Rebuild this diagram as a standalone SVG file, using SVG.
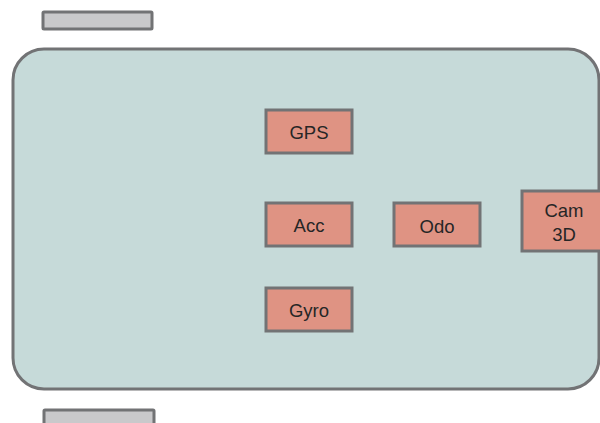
<svg xmlns="http://www.w3.org/2000/svg" width="600" height="423" viewBox="0 0 600 423">
<style>
.wheel{fill:#c9c9cb;stroke:#727375;stroke-width:3}
.body{fill:#c6dad9;stroke:#727375;stroke-width:3}
.node rect{fill:#df9383;stroke:#727375;stroke-width:3}
.node text{font-family:"Liberation Sans",Arial,sans-serif;font-size:18.5px;fill:#262626;text-anchor:middle}
</style>
<rect width="600" height="423" fill="#ffffff"/>
<rect id="wheel-top" class="wheel" x="43" y="12" width="109" height="17" rx="1"/>
<rect id="wheel-bottom" class="wheel" x="44" y="410" width="110" height="20" rx="1"/>
<rect id="body" class="body" x="13" y="49" width="586" height="340" rx="31"/>
<g id="connectors"></g>
<g id="gps" class="node"><rect x="266" y="110" width="86" height="43"/><text x="309" y="139">GPS</text></g>
<g id="acc" class="node"><rect x="266" y="203" width="86" height="43"/><text x="309" y="232">Acc</text></g>
<g id="gyro" class="node"><rect x="266" y="288" width="86" height="43"/><text x="309" y="317">Gyro</text></g>
<g id="odo" class="node"><rect x="394" y="203" width="86" height="43"/><text x="437" y="233">Odo</text></g>
<g id="cam3d" class="node"><rect x="522" y="191" width="86" height="60"/><text x="564" y="217">Cam</text><text x="564" y="241">3D</text></g>
</svg>
